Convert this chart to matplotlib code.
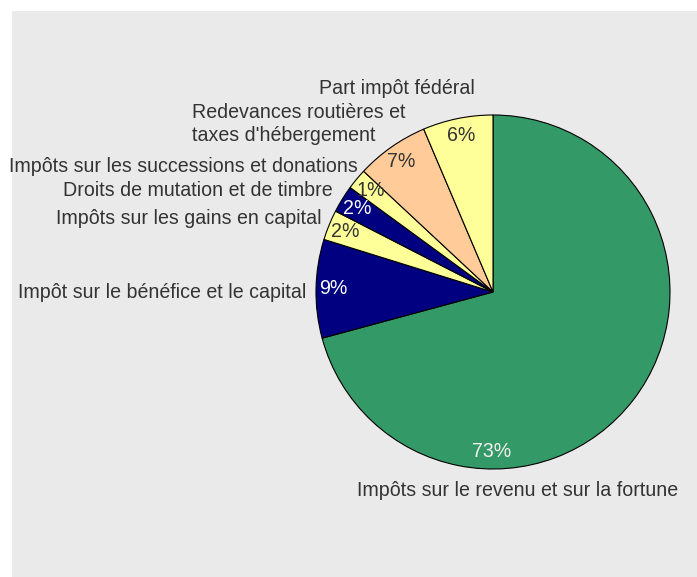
import numpy as np
import matplotlib
matplotlib.use("Agg")
import matplotlib.pyplot as plt
from matplotlib.patches import Rectangle

plt.rcParams['font.family'] = ['Liberation Sans', 'DejaVu Sans']

# slices, clockwise from 12 o'clock
categories = [
    "Impôts sur le revenu et sur la fortune",
    "Impôt sur le bénéfice et le capital",
    "Impôts sur les gains en capital",
    "Droits de mutation et de timbre",
    "Impôts sur les successions et donations",
    "Redevances routières et\ntaxes d'hébergement",
    "Part impôt fédéral",
]
shares = [70.8, 9.0, 2.75, 2.5, 1.9, 6.65, 6.4]
pct_labels = ["73%", "9%", "2%", "2%", "1%", "7%", "6%"]
colors = ["#339966", "#000080", "#ffff99", "#000080", "#ffff99", "#ffcc99", "#ffff99"]
pct_colors = ["#f0f0f0", "white", "#333333", "white", "#333333", "#333333", "#333333"]

W, H = 697, 577
cx, cy, r = 493, H - 292, 177
fs = 14.1

# label anchors in pixels (x, y from top, alignment)
label_pos = [
    (357, 491, "left"),
    (306, 292, "right"),
    (322, 219, "right"),
    (333, 191, "right"),
    (358, 167, "right"),
    (192, 124, "left"),
    (397, 89, "center"),
]

fig = plt.figure(figsize=(W / 100, H / 100), dpi=100)
ax = fig.add_axes([0, 0, 1, 1])

wedges, _ = ax.pie(shares, colors=colors, startangle=90, counterclock=False,
                   center=(cx, cy), radius=r,
                   wedgeprops=dict(edgecolor="black", linewidth=0.8))
ax.set_xlim(0, W)
ax.set_ylim(0, H)
ax.add_patch(Rectangle((12, 0), W - 12, H - 11, facecolor="#eaeaea",
                       edgecolor="none", zorder=0))

for i, w in enumerate(wedges):
    ang = (w.theta1 + w.theta2) / 2
    if i == 0:
        ang = -90.5  # the big slice has its value at the bottom
    a = np.deg2rad(ang)
    ax.text(cx + 0.9 * r * np.cos(a), cy + 0.9 * r * np.sin(a), pct_labels[i],
            ha="center", va="center", fontsize=fs, color=pct_colors[i])

for name, (x, y, ha) in zip(categories, label_pos):
    ax.text(x, H - y, name, ha=ha, va="center", fontsize=fs,
            color="#333333", multialignment="left", linespacing=1.3)

fig.savefig("out.png", dpi=100, facecolor="white")
